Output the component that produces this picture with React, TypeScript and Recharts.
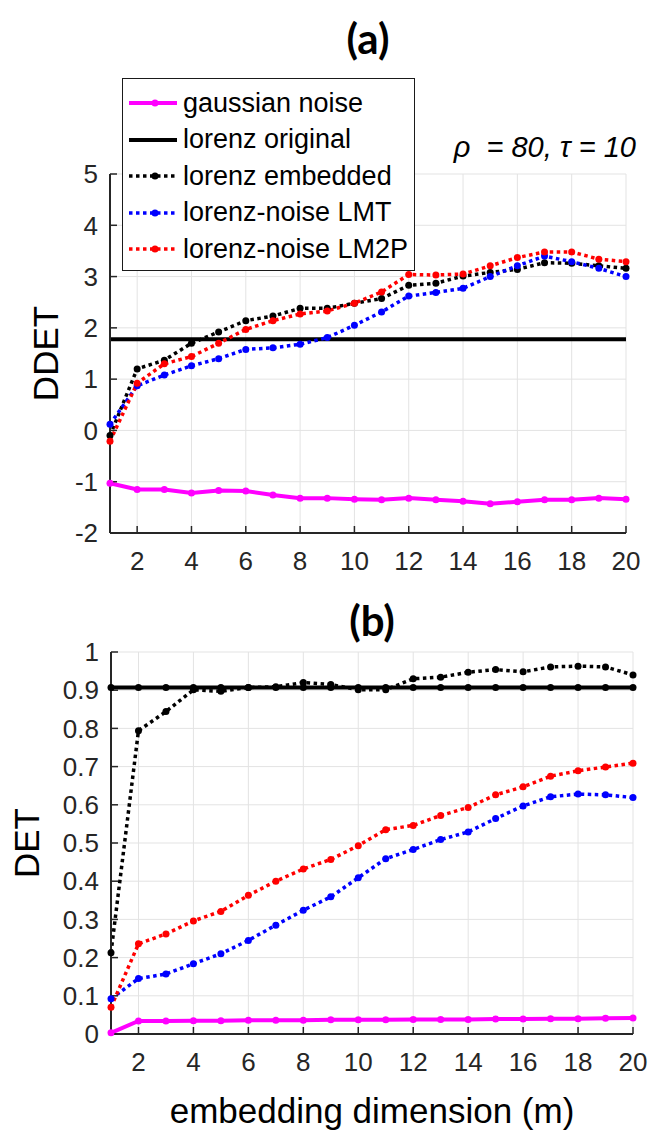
import { LineChart, Line, XAxis, YAxis, CartesianGrid, Legend } from "recharts";

// embedding dimension m
const dims = [1, 2, 3, 4, 5, 6, 7, 8, 9, 10, 11, 12, 13, 14, 15, 16, 17, 18, 19, 20];
const xTicks = [2, 4, 6, 8, 10, 12, 14, 16, 18, 20];

// panel (a) DDET
const ddetGaussian = [-1.03, -1.15, -1.15, -1.22, -1.17, -1.18, -1.26, -1.32, -1.32, -1.34, -1.35, -1.32, -1.35, -1.38, -1.43, -1.39, -1.35, -1.35, -1.32, -1.34];
const ddetOriginal = [1.78, 1.78, 1.78, 1.78, 1.78, 1.78, 1.78, 1.78, 1.78, 1.78, 1.78, 1.78, 1.78, 1.78, 1.78, 1.78, 1.78, 1.78, 1.78, 1.78];
const ddetEmbedded = [-0.1, 1.2, 1.37, 1.7, 1.92, 2.14, 2.23, 2.38, 2.38, 2.48, 2.57, 2.83, 2.87, 3.01, 3.08, 3.14, 3.27, 3.26, 3.21, 3.16];
const ddetLMT = [0.12, 0.87, 1.08, 1.26, 1.4, 1.58, 1.61, 1.68, 1.81, 2.05, 2.31, 2.62, 2.69, 2.77, 3.0, 3.21, 3.4, 3.29, 3.16, 3.0];
const ddetLM2P = [-0.21, 0.92, 1.3, 1.44, 1.7, 1.97, 2.14, 2.27, 2.33, 2.48, 2.7, 3.04, 3.03, 3.05, 3.21, 3.37, 3.48, 3.48, 3.34, 3.29];
const ddetTicks = [-2, -1, 0, 1, 2, 3, 4, 5];

// panel (b) DET
const detGaussian = [0.003, 0.034, 0.034, 0.035, 0.035, 0.036, 0.036, 0.036, 0.037, 0.037, 0.037, 0.038, 0.038, 0.038, 0.039, 0.039, 0.04, 0.04, 0.041, 0.042];
const detOriginal = [0.907, 0.907, 0.907, 0.907, 0.907, 0.907, 0.907, 0.907, 0.907, 0.907, 0.907, 0.907, 0.907, 0.907, 0.907, 0.907, 0.907, 0.907, 0.907, 0.907];
const detEmbedded = [0.213, 0.794, 0.844, 0.901, 0.897, 0.907, 0.909, 0.92, 0.915, 0.901, 0.901, 0.93, 0.934, 0.947, 0.954, 0.948, 0.961, 0.963, 0.961, 0.94];
const detLMT = [0.092, 0.145, 0.157, 0.184, 0.21, 0.245, 0.285, 0.324, 0.359, 0.409, 0.459, 0.483, 0.509, 0.529, 0.564, 0.597, 0.621, 0.628, 0.626, 0.619];
const detLM2P = [0.07, 0.236, 0.262, 0.296, 0.321, 0.363, 0.4, 0.432, 0.457, 0.493, 0.535, 0.546, 0.572, 0.593, 0.626, 0.647, 0.675, 0.689, 0.699, 0.709];
const detTicks = [0, 0.1, 0.2, 0.3, 0.4, 0.5, 0.6, 0.7, 0.8, 0.9, 1];

const FONT = "Arial, 'Liberation Sans', Helvetica, sans-serif";
const AXIS = "#262626";
const GRID = "#e3e3e3";

const series = [
  { key: "gauss", name: "gaussian noise", color: "#ff00ff", dotted: false, legendDot: true },
  { key: "orig", name: "lorenz original", color: "#000000", dotted: false, legendDot: false },
  { key: "emb", name: "lorenz embedded", color: "#000000", dotted: true, legendDot: true },
  { key: "lmt", name: "lorenz-noise LMT", color: "#0000ff", dotted: true, legendDot: true },
  { key: "lm2p", name: "lorenz-noise LM2P", color: "#ff0000", dotted: true, legendDot: true },
];

const dataA = dims.map((m, i) => ({
  m,
  gauss: ddetGaussian[i],
  orig: ddetOriginal[i],
  emb: ddetEmbedded[i],
  lmt: ddetLMT[i],
  lm2p: ddetLM2P[i],
}));

const dataB = dims.map((m, i) => ({
  m,
  gauss: detGaussian[i],
  orig: detOriginal[i],
  emb: detEmbedded[i],
  lmt: detLMT[i],
  lm2p: detLM2P[i],
}));

const tickStyle = { fill: AXIS, fontSize: 26, fontFamily: FONT };

function LegendBox() {
  return (
    <div
      style={{
        background: "#fff",
        border: "1.5px solid #1a1a1a",
        padding: "6px 6px 2px 6px",
        fontFamily: FONT,
        fontSize: 27,
        color: "#000",
        whiteSpace: "nowrap",
      }}
    >
      {series.map((s) => (
        <div key={s.key} style={{ display: "flex", alignItems: "center", height: 36.5 }}>
          <svg width={48} height={12} style={{ flex: "none" }}>
            <line
              x1={0}
              y1={6}
              x2={48}
              y2={6}
              stroke={s.color}
              strokeWidth={s.dotted ? 3.5 : 4}
              strokeDasharray={s.dotted ? "3.5 3.5" : undefined}
            />
            {s.legendDot && <circle cx={26} cy={6} r={3.5} fill={s.color} />}
          </svg>
          <span style={{ marginLeft: 6 }}>{s.name}</span>
        </div>
      ))}
    </div>
  );
}

function yLabel(text: string, x: number, fallbackCy: number) {
  return (props: any) => {
    const vb = props.viewBox;
    const cy = vb && typeof vb.y === "number" ? vb.y + vb.height / 2 : fallbackCy;
    return (
      <text
        x={x}
        y={cy}
        transform={`rotate(-90 ${x} ${cy})`}
        textAnchor="middle"
        dominantBaseline="central"
        fill="#000"
        fontSize={35}
        fontFamily={FONT}
      >
        {text}
      </text>
    );
  };
}

function xLabel(text: string) {
  return (props: any) => {
    const vb = props.viewBox;
    const cx = vb.x + vb.width / 2;
    const cy = vb.y + 76;
    return (
      <text x={cx} y={cy} textAnchor="middle" dominantBaseline="central" fill="#000" fontSize={35} fontFamily={FONT}>
        {text}
      </text>
    );
  };
}

function renderLines(showOrigDots: boolean) {
  return series.map((s) => (
    <Line
      key={s.key}
      type="linear"
      dataKey={s.key}
      name={s.name}
      stroke={s.color}
      strokeWidth={s.dotted ? 3.5 : 4}
      strokeDasharray={s.dotted ? "3.5 3.5" : undefined}
      dot={s.key === "orig" && !showOrigDots ? false : { r: 3.5, fill: s.color, stroke: s.color, strokeWidth: 0 }}
      activeDot={false}
      isAnimationActive={false}
    />
  ));
}

const titleStyle: React.CSSProperties = {
  position: "absolute",
  fontFamily: "Lato, 'Open Sans', sans-serif",
  fontWeight: 700,
  fontSize: 42,
  color: "#000",
  transform: "translate(-50%, -50%)",
  lineHeight: 1,
};

export default function App() {
  return (
    <div style={{ position: "absolute", left: 0, top: 0, width: 652, height: 1135, background: "#fff", overflow: "hidden" }}>
      <div style={{ ...titleStyle, left: 368, top: 38 }}>(a)</div>
      <div style={{ ...titleStyle, left: 372, top: 620 }}>(b)</div>

      <div style={{ position: "absolute", left: 0, top: 0 }}>
        <LineChart width={652} height={580} data={dataA} margin={{ top: 174, right: 26, bottom: 7, left: 0 }}>
          <CartesianGrid stroke={GRID} strokeWidth={1} />
          <XAxis
            type="number"
            dataKey="m"
            domain={[1, 20]}
            ticks={xTicks}
            height={40}
            axisLine={{ stroke: AXIS, strokeWidth: 2 }}
            tickLine={{ stroke: AXIS, strokeWidth: 1.5 }}
            tickSize={-7}
            tickMargin={26}
            tick={tickStyle}
          />
          <YAxis
            type="number"
            domain={[-2, 5]}
            ticks={ddetTicks}
            width={110}
            axisLine={{ stroke: AXIS, strokeWidth: 2 }}
            tickLine={{ stroke: AXIS, strokeWidth: 1.5 }}
            tickSize={-7}
            tickMargin={19}
            tick={tickStyle}
            label={yLabel("DDET", 45, 353)}
          />
          <Legend
            layout="vertical"
            align="center"
            verticalAlign="middle"
            content={() => <LegendBox />}
            wrapperStyle={{ left: 122, top: 78, width: "auto", height: "auto" }}
          />
          {renderLines(false)}
        </LineChart>
      </div>

      <div
        style={{
          position: "absolute",
          right: 16,
          top: 131,
          fontFamily: FONT,
          fontStyle: "italic",
          fontSize: 29,
          color: "#000",
          whiteSpace: "pre",
        }}
      >
        {"ρ  = 80, τ = 10"}
      </div>

      <div style={{ position: "absolute", left: 0, top: 580 }}>
        <LineChart width={652} height={555} data={dataB} margin={{ top: 72, right: 19, bottom: 0, left: 0 }}>
          <CartesianGrid stroke={GRID} strokeWidth={1} />
          <XAxis
            type="number"
            dataKey="m"
            domain={[1, 20]}
            ticks={xTicks}
            height={101}
            axisLine={{ stroke: AXIS, strokeWidth: 2 }}
            tickLine={{ stroke: AXIS, strokeWidth: 1.5 }}
            tickSize={-7}
            tickMargin={26}
            tick={tickStyle}
            label={xLabel("embedding dimension (m)")}
          />
          <YAxis
            type="number"
            domain={[0, 1]}
            ticks={detTicks}
            width={111}
            axisLine={{ stroke: AXIS, strokeWidth: 2 }}
            tickLine={{ stroke: AXIS, strokeWidth: 1.5 }}
            tickSize={-7}
            tickMargin={19}
            tick={tickStyle}
            tickFormatter={(v: number) => (v === 0 || v === 1 ? String(v) : v.toFixed(1))}
            label={yLabel("DET", 26, 263)}
          />
          {renderLines(true)}
        </LineChart>
      </div>
    </div>
  );
}
